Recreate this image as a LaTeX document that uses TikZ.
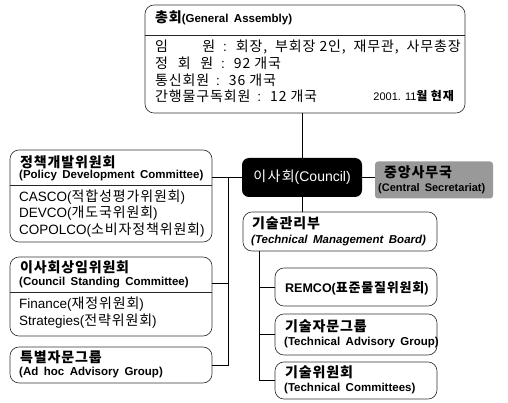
\documentclass[tikz,border=0pt]{standalone}
\usepackage{fontspec}
\setmainfont{Liberation Sans}
\newfontfamily\krfont{Noto Sans CJK KR}[LetterSpace=6]
\newfontfamily\krtfont{Noto Sans CJK KR}[LetterSpace=6]
\newfontfamily\krwide{Noto Sans CJK KR}[LetterSpace=10]
\newcommand\KT[1]{{\krtfont\bfseries\fontsize{14}{16}\selectfont #1}}
\newcommand\ET[1]{{\bfseries\fontsize{11.5}{13}\selectfont\spaceskip=5.5pt #1}}
\newcommand\KB[1]{{\krfont\fontsize{14}{16}\selectfont #1}}
\newcommand\EB[1]{{\fontsize{13.5}{16}\selectfont #1}}
\begin{document}
\begin{tikzpicture}[x=1pt,y=-1pt,
  box/.style={draw=black!80, line width=0.65pt, rounded corners=9pt, inner sep=0pt},
  conn/.style={draw=black, line width=0.8pt},
  sep/.style={draw=black!85, line width=0.7pt},
  txt/.style={inner sep=0pt, anchor=west}]
\useasboundingbox (0,0) rectangle (508,403);

% General Assembly
\node[box, minimum width=320pt, minimum height=108pt] (ga) at (305,59) {};
\node[txt] (gat) at (155,18) {\KT{총회}\ET{(General Assembly)}};
\draw[sep] (ga.west |- 0,35) -- (ga.east |- 0,35);
\node[txt] (ga1) at (155,47) {\KB{\makebox[60pt][s]{임\hfill 원}}\EB{\hspace{8pt}:\hspace{9pt}}\KB{회장,\ \ 부회장 2인,\ \ 재무관,\ \ 사무총장}};
\node[txt] (ga2) at (155,63) {\KB{\makebox[58pt][s]{정\hfill 회\hfill 원}}\EB{\hspace{8pt}:\hspace{9pt}}\KB{92 개국}};
\node[txt] (ga3) at (155,80) {\KB{통신회원}\EB{\hspace{7pt}:\hspace{9pt}}\KB{36 개국}};
\node[txt] (ga4) at (155,96) {\KB{간행물구독회원}\EB{\hspace{7pt}:\hspace{9pt}}\KB{12 개국}};
\node[inner sep=0pt, anchor=east] (date) at (454,96) {{\fontsize{11}{13}\selectfont 2001. 11}{\krfont\bfseries\fontsize{12}{14}\selectfont 월 현재}};

% Council
\node[fill=black, rounded corners=7pt, minimum width=120pt, minimum height=39pt, text=white, inner sep=0pt] (council) at (302,177.5) {{\krwide\fontsize{14}{16}\selectfont 이사회}{\fontsize{14}{16}\selectfont(Council)}};

% Central Secretariat
\node[fill=black!40, rounded corners=3pt, minimum width=118pt, minimum height=37pt, inner sep=0pt] (cs) at (434,180) {};
\node[txt] (cst1) at (384,172) {\KT{중앙사무국}};
\node[txt] (cst2) at (378,189) {{\bfseries\fontsize{11}{13}\selectfont\spaceskip=5pt (Central Secretariat)}};

% Policy Development Committee
\node[box, minimum width=202pt, minimum height=92pt] (pdc) at (111,196) {};
\node[txt] (pdc1) at (20,162) {\KT{정책개발위원회}};
\node[txt] (pdc2) at (19,176) {\ET{(Policy Development Committee)}};
\draw[sep] (pdc.west |- 0,185) -- (pdc.east |- 0,185);
\node[txt] (pdc3) at (19,197) {\EB{CASCO(}\KB{적합성평가위원회}\EB{)}};
\node[txt] (pdc4) at (19,213) {\EB{DEVCO(}\KB{개도국위원회}\EB{)}};
\node[txt] (pdc5) at (19,230) {\EB{COPOLCO(}\KB{소비자정책위원회}\EB{)}};

% Council Standing Committee
\node[box, minimum width=202pt, minimum height=79pt] (csc) at (111,296.5) {};
\node[txt] (csc1) at (20,267) {\KT{이사회상임위원회}};
\node[txt] (csc2) at (19,283) {\ET{(Council Standing Committee)}};
\draw[sep] (csc.west |- 0,292) -- (csc.east |- 0,292);
\node[txt] (csc3) at (19,304) {\EB{Finance(}\KB{재정위원회}\EB{)}};
\node[txt] (csc4) at (19,321) {\EB{Strategies(}\KB{전략위원회}\EB{)}};
\coordinate (cscj) at (212,283);

% Ad hoc
\node[box, minimum width=202pt, minimum height=36pt] (adhoc) at (111,365) {};
\node[txt] (ah1) at (20,357) {\KT{특별자문그룹}};
\node[txt] (ah2) at (19,373) {\ET{(Ad hoc Advisory Group)}};

% Technical Management Board
\node[box, minimum width=194pt, minimum height=39pt] (tmb) at (340,231.5) {};
\node[txt] (tmb1) at (252,223) {\KT{기술관리부}};
\node[txt] (tmb2) at (251,241) {\ET{\itshape(Technical Management Board)}};

% REMCO
\node[box, minimum width=162pt, minimum height=38pt] (remco) at (356,287) {};
\node[txt] (rm1) at (285,288) {{\bfseries\fontsize{12.5}{14}\selectfont REMCO(}{\krfont\bfseries\fontsize{13}{15}\selectfont 표준물질위원회}{\bfseries\fontsize{12.5}{14}\selectfont )}};

% TAG
\node[box, minimum width=162pt, minimum height=41pt] (tag) at (356,334.5) {};
\node[txt] (tag1) at (285,326) {\KT{기술자문그룹}};
\node[txt] (tag2) at (284,343) {\ET{(Technical Advisory Group)}};

% TC
\node[box, minimum width=162pt, minimum height=37pt] (tc) at (356,380.5) {};
\node[txt] (tc1) at (285,372) {\KT{기술위원회}};
\node[txt] (tc2) at (284,389) {\ET{(Technical Committees)}};

% connectors
\draw[conn] (council.north |- ga.south) -- (council.north);
\draw[conn] (council.east) -- (cs.west |- council.east);
\draw[conn] (council.south) -- (council.south |- tmb.north);
\draw[conn] (council.west) -- (council.west -| pdc.east);
\coordinate (lbus) at (228,177.5);
\draw[conn] (lbus) -- (lbus |- adhoc.east) -- (adhoc.east);
\draw[conn] (lbus |- cscj) -- (cscj);
\coordinate (rbus) at (259,251);
\draw[conn] (rbus) -- (rbus |- tc.west) -- (tc.west);
\draw[conn] (rbus |- remco.west) -- (remco.west);
\draw[conn] (rbus |- tag.west) -- (tag.west);
\end{tikzpicture}
\end{document}
